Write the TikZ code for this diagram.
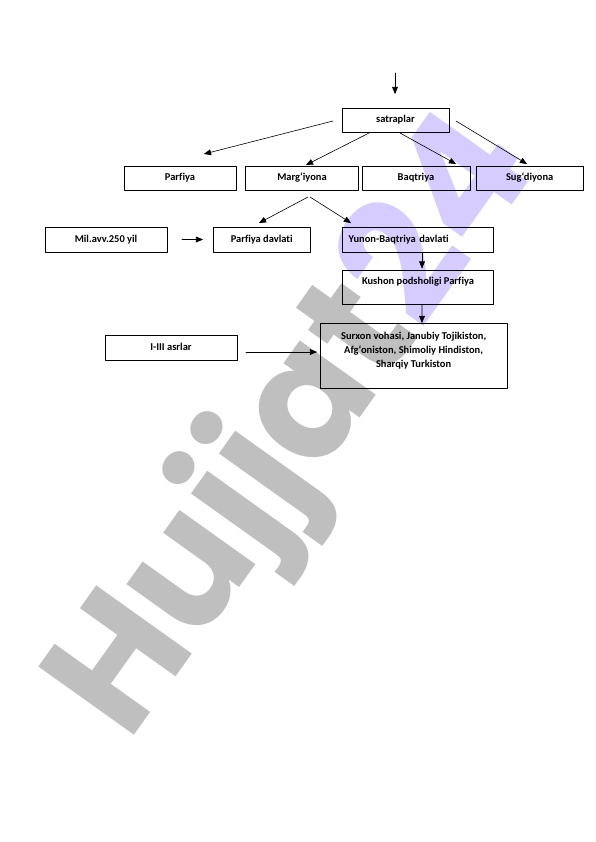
\documentclass[tikz,border=0pt]{standalone}
\usepackage{fontspec}
\setmainfont{Carlito}[Ligatures={NoCommon}]
\newfontfamily\markfont{Poppins}
\usetikzlibrary{arrows}
\definecolor{hjgray}{rgb}{0.75,0.75,0.75}
\definecolor{hjlila}{rgb}{0.84,0.8,1}

\begin{document}
\begin{tikzpicture}[line cap=round,line join=round,>=triangle 45,x=1bp,y=-1bp,
    box/.style={draw,line width=0.6bp,inner sep=0pt,font=\bfseries\fontsize{10.5}{14.3}\selectfont},
    lab/.style={font=\bfseries\fontsize{10.5}{14.3}\selectfont,align=center,inner sep=0pt},
    watermark/.style={font=\markfont\bfseries\fontsize{168}{168}\selectfont,text=hjgray,inner sep=0pt}]
  \useasboundingbox (0,0) rectangle (596,842);
  \fill[white] (0,0) rectangle (596,842);
  % watermark
  \node[watermark,rotate=54.5,anchor=base west] (hujjat) at (128,744) {\scalebox{0.98}[1]{Hujjat\textcolor{hjlila}{24}}};

  \node[box,minimum width=107bp,minimum height=24bp] (satraplar) at (395.5,120) {satraplar};
  \node[box,minimum width=112bp,minimum height=24bp] (parfiya) at (180,178) {Parfiya};
  \node[box,minimum width=112.6bp,minimum height=24bp] (margiyona) at (302,178) {Marg‘iyona};
  \node[box,minimum width=108bp,minimum height=24bp] (baqtriya) at (416,178) {Baqtriya};
  \node[box,minimum width=107bp,minimum height=24bp] (sugdiyona) at (529.7,178) {Sug‘diyona};

  \node[box,minimum width=122bp,minimum height=24.6bp] (milavv) at (106,240) {Mil.avv.250 yil};
  \node[box,minimum width=96.7bp,minimum height=24.6bp] (parfiyadavlati) at (261.7,240) {Parfiya davlati};
  \node[box,inner xsep=6bp,text width=138.7bp,align=left,minimum height=24.6bp] (yunon) at (418,240) {Yunon-Baqtriya davlati};
  \node[box,minimum width=150.7bp,minimum height=33.3bp,
    label={[lab,yshift=5.3bp]center:Kushon podsholigi Parfiya}] (kushon) at (418,287.4) {};

  \node[box,minimum width=132bp,minimum height=24.3bp,
    label={[lab,yshift=1.2bp]center:I-III asrlar}] (asrlar) at (171,347.9) {};
  \node[box,minimum width=187.3bp,minimum height=65bp,
    label={[lab,yshift=5bp]center:Surxon vohasi, Janubiy Tojikiston,\\Afg‘oniston, Shimoliy Hindiston,\\Sharqiy Turkiston}] (surxon) at (413.6,355.8) {};

  % arrow ends
  \coordinate (top0) at (395,73);
  \coordinate (top1) at (395,94);
  \coordinate (sp) at (333,121);
  \coordinate (spe) at (204,154);
  \coordinate (sm) at (369,133);
  \coordinate (sme) at (306,165);
  \coordinate (sb) at (400,133);
  \coordinate (sbe) at (456,164);
  \coordinate (ss) at (456,121);
  \coordinate (sse) at (527,164);
  \coordinate (ml) at (308,197);
  \coordinate (mle) at (259,223);
  \coordinate (mr) at (310,197);
  \coordinate (mre) at (351,223);
  \coordinate (ma) at (182,239.5);
  \coordinate (mae) at (203,239.5);
  \coordinate (aa) at (246,352);
  \coordinate (aae) at (317,352);

  \draw[->,line width=0.6bp] (top0) -- (top1);
  \draw[->,line width=0.6bp] (sp) -- (spe);
  \draw[->,line width=0.6bp] (sm) -- (sme);
  \draw[->,line width=0.6bp] (sb) -- (sbe);
  \draw[->,line width=0.6bp] (ss) -- (sse);
  \draw[->,line width=0.6bp] (ml) -- (mle);
  \draw[->,line width=0.6bp] (mr) -- (mre);
  \draw[->,line width=0.6bp] (ma) -- (mae);
  \draw[->,line width=0.6bp] ([xshift=4bp]yunon.south) -- ([xshift=4bp,yshift=2bp]kushon.north);
  \draw[->,line width=0.6bp] ([xshift=4bp]kushon.south) -- ([xshift=8.4bp]surxon.north);
  \draw[->,line width=0.6bp] (aa) -- (aae);
\end{tikzpicture}
\end{document}
